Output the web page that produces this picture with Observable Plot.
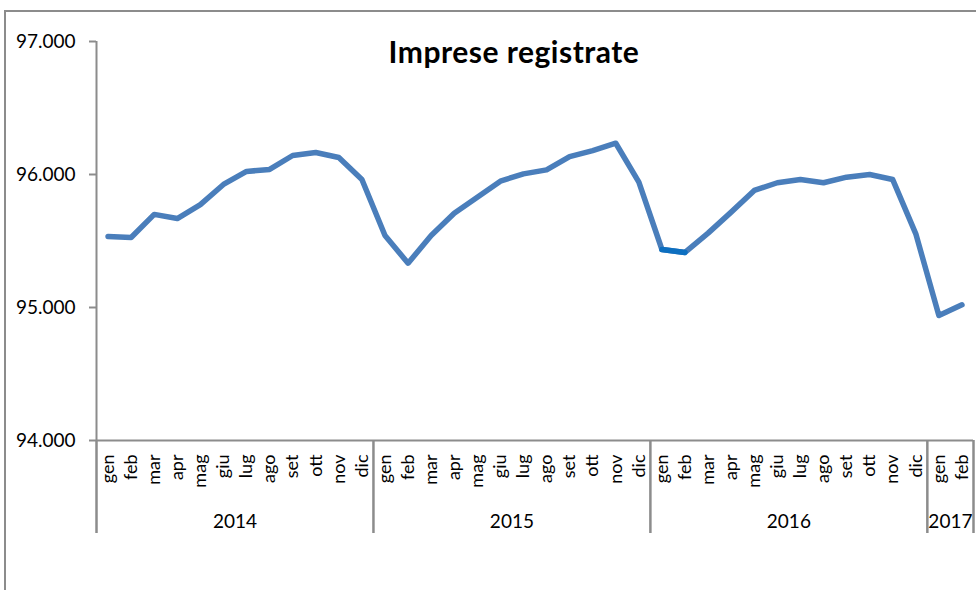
<!DOCTYPE html>
<html>
<head>
<meta charset="utf-8">
<script src="https://cdn.jsdelivr.net/npm/d3@7"></script>
<script src="https://cdn.jsdelivr.net/npm/@observablehq/plot@0.6"></script>
<style>
  html, body { margin: 0; padding: 0; background: #fff; }
  #wrap { position: relative; width: 976px; height: 590px; overflow: hidden; font-family: Lato, "Open Sans", sans-serif; }
  #frame { position: absolute; left: 4px; top: 10px; width: 990px; height: 600px; border-top: 2px solid #8c8c8c; border-left: 2px solid #8c8c8c; }
  #title { position: absolute; left: 0; width: 1028px; top: 36px; text-align: center; font-size: 30px; line-height: 30px; font-weight: bold; color: #000; letter-spacing: 0.5px; }
  #chart { position: absolute; left: 0; top: 0; }
</style>
</head>
<body>
<div id="wrap">
  <div id="frame"></div>
  <div id="chart"></div>
  <div id="title">Imprese registrate</div>
</div>
<script>
const months = ["gen","feb","mar","apr","mag","giu","lug","ago","set","ott","nov","dic"];
const years = [2014, 2015, 2016, 2017];
const values2014 = [95534, 95526, 95700, 95669, 95774, 95925, 96023, 96038, 96143, 96165, 96128, 95962];
const values2015 = [95541, 95333, 95541, 95709, 95829, 95950, 96005, 96035, 96135, 96180, 96235, 95942];
const values2016 = [95436, 95414, 95559, 95717, 95880, 95938, 95962, 95938, 95980, 96000, 95962, 95554];
const values2017 = [94940, 95020];
const yTicks = [94000, 95000, 96000, 97000];

const series = [values2014, values2015, values2016, values2017];
const rows = [];
const yearBlocks = [];
let idx = 0;
series.forEach((vals, k) => {
  const start = idx;
  vals.forEach((v, m) => {
    rows.push({i: idx, year: years[k], month: months[m], value: v});
    idx++;
  });
  yearBlocks.push({year: years[k], start, end: idx});
});
const boundaries = [0, ...yearBlocks.map(b => b.end)];
const highlight = rows.filter(r => r.year === 2016 && (r.month === "gen" || r.month === "feb"));

const yMin = 94000;
const pxPerUnit = (440 - 41) / 3000;
const yBottom = yMin - 93 / pxPerUnit;
const fmt = d => d3.format(",.0f")(d).replace(/,/g, ".");
const gray = "#8c8c8c";

const chart = Plot.plot({
  width: 976,
  height: 590,
  marginLeft: 96,
  marginRight: 3,
  marginTop: 41,
  marginBottom: 150,
  style: {fontFamily: "Lato, 'Open Sans', sans-serif", fontSize: "19px", color: "#000", background: "transparent"},
  x: {type: "linear", domain: [0, idx], axis: null},
  y: {domain: [94000, 97000], axis: null},
  marks: [
    Plot.axisY({ticks: yTicks, tickFormat: fmt, tickSize: 7, tickPadding: 14, label: null, stroke: gray, strokeWidth: 2, strokeOpacity: 1, fontSize: 19}),
    Plot.ruleX([0], {stroke: gray, strokeWidth: 2}),
    Plot.ruleY([yMin], {stroke: gray, strokeWidth: 2}),
    Plot.ruleX(boundaries, {y1: yMin, y2: yBottom, stroke: gray, strokeWidth: 2.5}),
    Plot.text(rows, {x: d => d.i + 0.5, y: yMin, text: "month", rotate: -90, textAnchor: "end", dy: 14, fontSize: 18, fill: "#000"}),
    Plot.text(yearBlocks, {x: d => (d.start + d.end) / 2, y: yMin, text: d => String(d.year), dy: 81, fontSize: 19, fill: "#000"}),
    Plot.line(rows, {x: d => d.i + 0.5, y: "value", stroke: "#4a7ebb", strokeWidth: 5.5, strokeLinejoin: "round", strokeLinecap: "round"}),
    Plot.line(highlight, {x: d => d.i + 0.5, y: "value", stroke: "#0d6fc0", strokeWidth: 5.5, strokeLinecap: "round"})
  ]
});
document.getElementById("chart").appendChild(chart);
</script>
</body>
</html>
